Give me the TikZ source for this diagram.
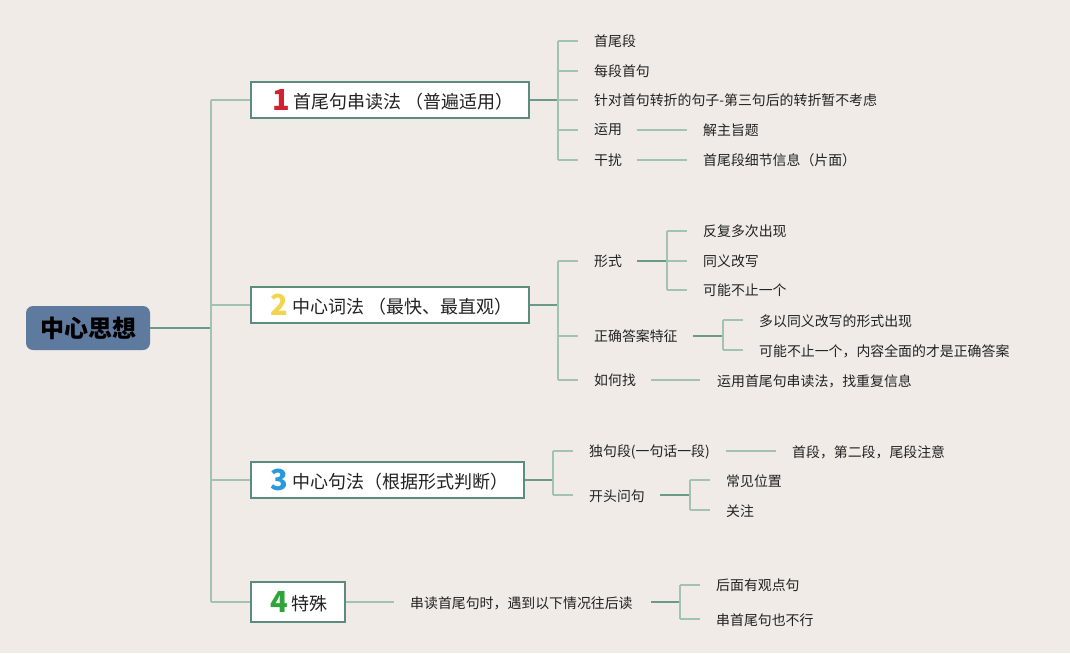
\documentclass[tikz,border=0pt]{standalone}
\usepackage{fontspec}
\setmainfont{Noto Sans CJK SC}
\newfontfamily\cjk{Noto Sans CJK SC}
\newcommand\numfont{\fontsize{29}{30}\selectfont\bfseries\cjk}
\newcommand\topfont{\fontsize{18}{20}\selectfont\cjk}
\newcommand\toptxt[1]{\raisebox{2pt}{\topfont\color{txt}#1}}
\definecolor{bg}{HTML}{F0EBE6}
\definecolor{rootfill}{HTML}{5F7A9F}
\definecolor{boxline}{HTML}{5C8C7D}
\definecolor{darkln}{HTML}{6A9A8B}
\definecolor{lightln}{HTML}{A2C2B4}
\definecolor{numred}{HTML}{D3202F}
\definecolor{numyel}{HTML}{F1D54E}
\definecolor{numblu}{HTML}{2A98DE}
\definecolor{numgrn}{HTML}{2EA43A}
\definecolor{txt}{HTML}{222222}
\tikzset{
  leaf/.style={anchor=west, inner sep=0pt, font=\fontsize{13.9}{15}\selectfont\cjk, text=txt},
  topic/.style={draw=boxline, line width=1.8pt, fill=white, inner sep=0pt},
  toptext/.style={anchor=west, inner sep=0pt},
  dk/.style={draw=darkln, line width=1.8pt},
  lt/.style={draw=lightln, line width=1.8pt},
}
\begin{document}
\begin{tikzpicture}[x=1pt,y=-1pt]
\fill[bg] (0,0) rectangle (1070,653);
\useasboundingbox (0,0) rectangle (1070,653);
% root
\node[fill=rootfill, rounded corners=7pt, minimum width=124pt, minimum height=44pt, inner sep=0pt,
  font=\fontsize{24}{26}\selectfont\bfseries\cjk, text=black] (root) at (88,328) {中心思想};
% trunk
\coordinate (tj) at (211,328);
\coordinate (ttop) at (211,100);
\coordinate (tbot) at (211,602);
\draw[dk] (root.east) -- (tj);
\draw[lt] (ttop) -- (tbot);
% topic boxes
\node[topic, minimum width=278pt, minimum height=36pt] (b1) at (390,100) {};
\node[toptext] (b1t) at (272,99.5) {{\color{numred}\numfont 1}\hspace{4pt}\toptxt{首尾句串读法 （普遍适用）}};
\node[topic, minimum width=278pt, minimum height=36pt] (b2) at (390,305) {};
\node[toptext] (b2t) at (270.5,304.5) {{\color{numyel}\numfont 2}\hspace{4pt}\toptxt{中心词法 （最快、最直观）}};
\node[topic, minimum width=273pt, minimum height=36pt] (b3) at (387.5,480) {};
\node[toptext] (b3t) at (270.5,479.5) {{\color{numblu}\numfont 3}\hspace{4pt}\toptxt{中心句法（根据形式判断）}};
\node[topic, minimum width=94pt, minimum height=40pt] (b4) at (298,602) {};
\node[toptext] (b4t) at (270,601.5) {{\color{numgrn}\numfont 4}\hspace{4pt}\toptxt{特殊}};
\draw[lt] (ttop) -- (b1.west);
\draw[lt] (211,305) -- (b2.west);
\draw[lt] (211,480) -- (b3.west);
\draw[lt] (tbot) -- (b4.west);
% ---- branch 1
\coordinate (j1) at (558,100);
\draw[dk] (b1.east) -- (j1);
\draw[lt] (558,41) -- (558,160);
\node[leaf] (l11) at (594,41) {首尾段};
\node[leaf] (l12) at (594,71) {每段首句};
\node[leaf] (l13) at (594,100) {针对首句转折的句子-第三句后的转折暂不考虑};
\node[leaf] (l14) at (594,130) {运用};
\node[leaf] (l15) at (594,160) {干扰};
\foreach \y in {41,71,100,130,160} \draw[lt] (558,\y) -- (578,\y);
\node[leaf] (l141) at (703,130) {解主旨题};
\node[leaf] (l151) at (703,160) {首尾段细节信息（片面）};
\draw[lt] (637,130) -- (687,130);
\draw[lt] (637,160) -- (687,160);
% ---- branch 2
\coordinate (j2) at (558,305);
\draw[dk] (b2.east) -- (j2);
\draw[lt] (558,261) -- (558,380);
\node[leaf] (l21) at (594,261) {形式};
\node[leaf] (l22) at (594,336) {正确答案特征};
\node[leaf] (l23) at (594,380) {如何找};
\foreach \y in {261,336,380} \draw[lt] (558,\y) -- (578,\y);
\draw[dk] (637,261) -- (667,261);
\draw[lt] (667,231) -- (667,290);
\foreach \y in {231,261,290} \draw[lt] (667,\y) -- (687,\y);
\node[leaf] (l211) at (703,231) {反复多次出现};
\node[leaf] (l212) at (703,261) {同义改写};
\node[leaf] (l213) at (703,290) {可能不止一个};
\draw[dk] (693,336) -- (723,336);
\draw[lt] (723,320) -- (723,350);
\foreach \y in {320,350} \draw[lt] (723,\y) -- (743,\y);
\node[leaf] (l221) at (759,321) {多以同义改写的形式出现};
\node[leaf] (l222) at (759,351) {可能不止一个，内容全面的才是正确答案};
\draw[lt] (651,380) -- (700,380);
\node[leaf] (l231) at (717,381) {运用首尾句串读法，找重复信息};
% ---- branch 3
\coordinate (j3) at (553,480);
\draw[dk] (b3.east) -- (j3);
\draw[lt] (553,451) -- (553,495);
\foreach \y in {451,495} \draw[lt] (553,\y) -- (573,\y);
\node[leaf] (l31) at (589,452) {独句段(一句话一段)};
\node[leaf] (l32) at (589,496) {开头问句};
\draw[lt] (726,451) -- (776,451);
\node[leaf] (l311) at (792,452) {首段，第二段，尾段注意};
\draw[dk] (660,495) -- (690,495);
\draw[lt] (690,480) -- (690,510);
\foreach \y in {480,510} \draw[lt] (690,\y) -- (710,\y);
\node[leaf] (l321) at (726,481) {常见位置};
\node[leaf] (l322) at (726,511) {关注};
% ---- branch 4
\draw[lt] (b4.east) -- (394,602);
\node[leaf] (l41) at (410,603) {串读首尾句时，遇到以下情况往后读};
\draw[dk] (651,602) -- (680,602);
\draw[lt] (680,585) -- (680,619);
\foreach \y in {585,619} \draw[lt] (680,\y) -- (700,\y);
\node[leaf] (l411) at (716,585) {后面有观点句};
\node[leaf] (l412) at (716,620) {串首尾句也不行};
\end{tikzpicture}
\end{document}
